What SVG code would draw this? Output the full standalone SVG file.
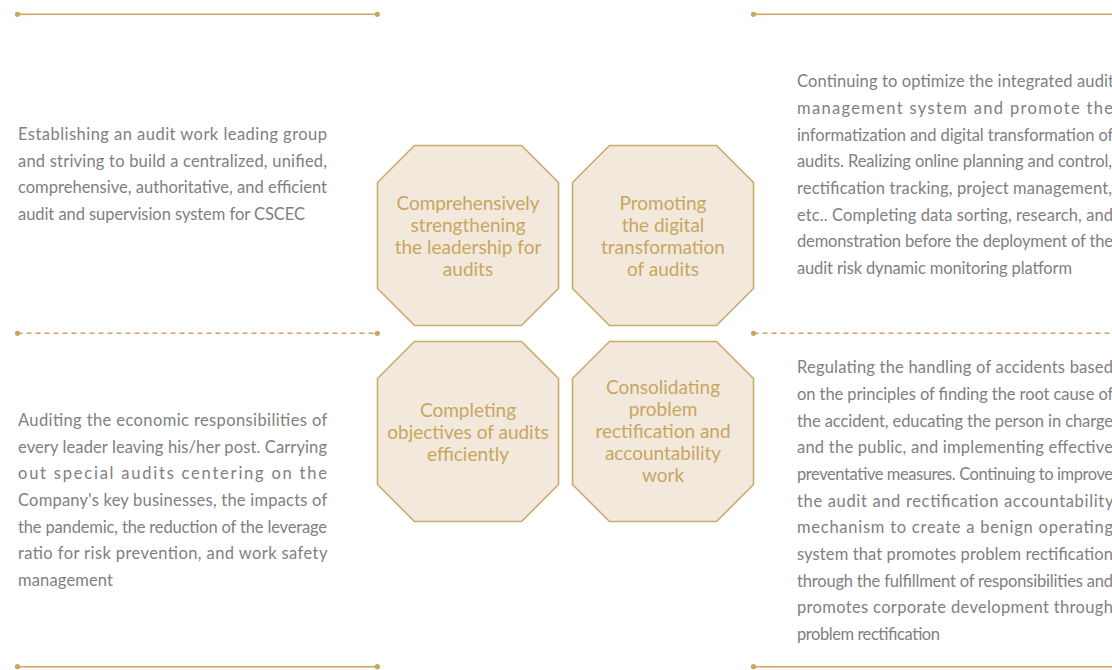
<svg xmlns="http://www.w3.org/2000/svg" xmlns:xlink="http://www.w3.org/1999/xlink" width="1112" height="670" viewBox="0 0 1112 670">
<style>
.rule{stroke:#c9a75f;stroke-width:1.6;fill:none}
.dash{stroke-dasharray:5 4}
.dot{fill:#c9a75f}
.oct{fill:#f2e9dc;stroke:#c9ab6c;stroke-width:1.6}
.nt{font-family:Lato,"Liberation Sans",sans-serif;font-size:19px;fill:#c8a660;text-anchor:middle}
.bt{font-family:Lato,"Liberation Sans",sans-serif;font-size:16.5px;fill:#808080}
</style>
<defs>
<polygon id="octo" points="37,0 144,0 181,37 181,143 144,180 37,180 0,143 0,37"/>
</defs>
<rect width="1112" height="670" fill="#ffffff"/>
<g id="connectors">
<line class="rule" x1="17.5" y1="14.3" x2="377.3" y2="14.3"/>
<circle class="dot" cx="17.5" cy="14.3" r="2.6"/><circle class="dot" cx="377.3" cy="14.3" r="2.6"/>
<line class="rule dash" x1="17.5" y1="333.3" x2="377.3" y2="333.3"/>
<circle class="dot" cx="17.5" cy="333.3" r="2.6"/><circle class="dot" cx="377.3" cy="333.3" r="2.6"/>
<line class="rule" x1="17.5" y1="666.7" x2="377.3" y2="666.7"/>
<circle class="dot" cx="17.5" cy="666.7" r="2.6"/><circle class="dot" cx="377.3" cy="666.7" r="2.6"/>
<line class="rule" x1="753.5" y1="14.3" x2="1115" y2="14.3"/>
<circle class="dot" cx="753.5" cy="14.3" r="2.6"/>
<line class="rule dash" x1="753.5" y1="333.3" x2="1115" y2="333.3"/>
<circle class="dot" cx="753.5" cy="333.3" r="2.6"/>
<line class="rule" x1="753.5" y1="666.7" x2="1115" y2="666.7"/>
<circle class="dot" cx="753.5" cy="666.7" r="2.6"/>
</g>
<g id="node-leadership">
<use xlink:href="#octo" href="#octo" class="oct" x="377.5" y="145.5"/>
<text class="nt"><tspan x="468" y="209.5" textLength="143">Comprehensively</tspan><tspan x="468" y="231.5">strengthening</tspan><tspan x="468" y="253.5">the leadership for</tspan><tspan x="468" y="275.5">audits</tspan></text>
</g>
<g id="node-digital">
<use xlink:href="#octo" href="#octo" class="oct" x="572.5" y="145.5"/>
<text class="nt"><tspan x="663" y="209.5">Promoting</tspan><tspan x="663" y="231.5">the digital</tspan><tspan x="663" y="253.5">transformation</tspan><tspan x="663" y="275.5">of audits</tspan></text>
</g>
<g id="node-objectives">
<use xlink:href="#octo" href="#octo" class="oct" x="377.5" y="341.5"/>
<text class="nt"><tspan x="468" y="416.5">Completing</tspan><tspan x="468" y="438.5">objectives of audits</tspan><tspan x="468" y="460.5">efficiently</tspan></text>
</g>
<g id="node-rectification">
<use xlink:href="#octo" href="#octo" class="oct" x="572.5" y="341.5"/>
<text class="nt"><tspan x="663" y="394">Consolidating</tspan><tspan x="663" y="416">problem</tspan><tspan x="663" y="438">rectification and</tspan><tspan x="663" y="460">accountability</tspan><tspan x="663" y="482">work</tspan></text>
</g>
<g id="text-leadership">
<text class="bt" lengthAdjust="spacing">
<tspan x="18" y="140" textLength="309">Establishing an audit work leading group</tspan>
<tspan x="18" y="166.7" textLength="309">and striving to build a centralized, unified,</tspan>
<tspan x="18" y="193.3" textLength="309">comprehensive, authoritative, and efficient</tspan>
<tspan x="18" y="220" textLength="287">audit and supervision system for CSCEC</tspan>
</text>
</g>
<g id="text-objectives">
<text class="bt">
<tspan x="18" y="426" textLength="309">Auditing the economic responsibilities of</tspan>
<tspan x="18" y="452.7" textLength="309">every leader leaving his/her post. Carrying</tspan>
<tspan x="18" y="479.3" textLength="309">out special audits centering on the</tspan>
<tspan x="18" y="506" textLength="309">Company's key businesses, the impacts of</tspan>
<tspan x="18" y="532.7" textLength="309">the pandemic, the reduction of the leverage</tspan>
<tspan x="18" y="559.3" textLength="309">ratio for risk prevention, and work safety</tspan>
<tspan x="18" y="586" textLength="95">management</tspan>
</text>
</g>
<g id="text-digital">
<text class="bt">
<tspan x="797" y="87.3" textLength="317">Continuing to optimize the integrated audit</tspan>
<tspan x="797" y="114" textLength="316">management system and promote the</tspan>
<tspan x="797" y="140.7" textLength="316">informatization and digital transformation of</tspan>
<tspan x="797" y="167.3" textLength="315">audits. Realizing online planning and control,</tspan>
<tspan x="797" y="194" textLength="315">rectification tracking, project management,</tspan>
<tspan x="797" y="220.7" textLength="316">etc.. Completing data sorting, research, and</tspan>
<tspan x="797" y="247.3" textLength="316">demonstration before the deployment of the</tspan>
<tspan x="797" y="274" textLength="275">audit risk dynamic monitoring platform</tspan>
</text>
</g>
<g id="text-rectification">
<text class="bt">
<tspan x="797" y="373.3" textLength="316">Regulating the handling of accidents based</tspan>
<tspan x="797" y="400" textLength="316">on the principles of finding the root cause of</tspan>
<tspan x="797" y="426.7" textLength="316">the accident, educating the person in charge</tspan>
<tspan x="797" y="453.3" textLength="316">and the public, and implementing effective</tspan>
<tspan x="797" y="480" textLength="316">preventative measures. Continuing to improve</tspan>
<tspan x="797" y="506.7" textLength="316">the audit and rectification accountability</tspan>
<tspan x="797" y="533.3" textLength="316">mechanism to create a benign operating</tspan>
<tspan x="797" y="560" textLength="316">system that promotes problem rectification</tspan>
<tspan x="797" y="586.7" textLength="316">through the fulfillment of responsibilities and</tspan>
<tspan x="797" y="613.3" textLength="316">promotes corporate development through</tspan>
<tspan x="797" y="640" textLength="143">problem rectification</tspan>
</text>
</g>
</svg>
